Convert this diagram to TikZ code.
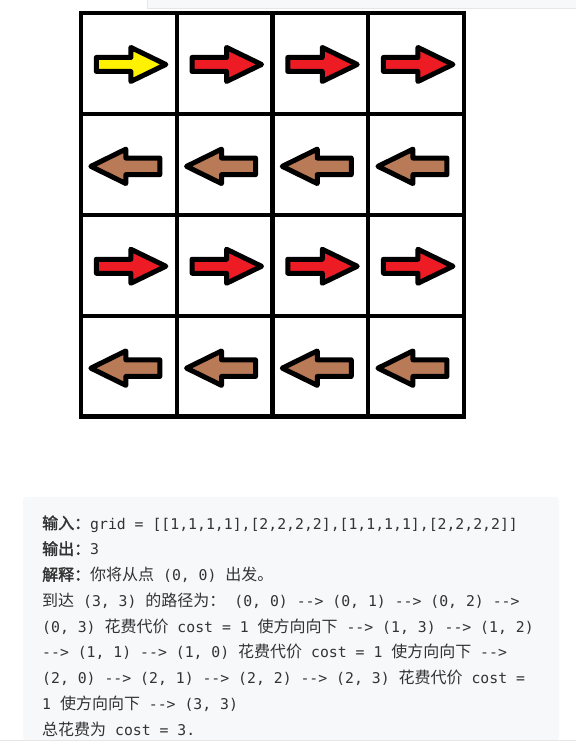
\documentclass[tikz,border=0pt]{standalone}
\usepackage{fontspec}
\usepackage{tikz}
\newfontfamily\cjk[AutoFakeBold=2]{Noto Sans CJK SC}
\newfontfamily\mono{DejaVu Sans Mono}
\definecolor{giallo}{HTML}{FFF200}
\definecolor{rosso}{HTML}{ED1C24}
\definecolor{marrone}{HTML}{B97A57}
\definecolor{sfondo}{HTML}{F7F8FA}
\definecolor{bordo}{HTML}{E6E6E6}
\definecolor{testo}{HTML}{333333}
\newcommand{\zh}[1]{{\cjk\fontsize{16}{20}\selectfont #1}}
\newcommand{\zhb}[1]{{\cjk\fontsize{16}{20}\selectfont\bfseries #1}}
\newcommand{\vai}{-{}-{}>}

\begin{document}
\begin{tikzpicture}[x=1pt,y=-1pt,
    cella/.style={line width=4.3pt,line cap=rect},
    freccia/.style={draw=black,line width=5pt,line join=round},
    riga/.style={anchor=base west,inner sep=0pt,text=testo,font=\mono\fontsize{14.8}{18}\selectfont}]
        \useasboundingbox (0,0) rectangle (576,753);
        % Striscia in alto
        \draw[bordo,fill=sfondo] (147,-1) rectangle (577,8);
        % Griglia 4x4
        \foreach \i in {0,...,4} {
            \draw[cella] ({81+95.7*\i},13) -- ({81+95.7*\i},416.5);
            \draw[cella] (81,{13+100.9*\i}) -- (463.8,{13+100.9*\i});
        }
        % Frecce verso destra (righe 0 e 2)
        \foreach \r in {0,2}
            \foreach \c in {0,...,3} {
                \def\col{rosso}
                \ifnum\r=0 \ifnum\c=0 \def\col{giallo}\fi\fi
                \draw[freccia,fill=\col,shift={({128.85+95.7*\c},{64.45+100.9*\r})}]
                    (-32.5,-7) -- (2,-7) -- (2,-17) -- (37,0) -- (2,17) -- (2,7) -- (-32.5,7) -- cycle;
            }
        % Frecce verso sinistra (righe 1 e 3)
        \foreach \r in {1,3}
            \foreach \c in {0,...,3}
                \draw[freccia,fill=marrone,shift={({128.85+95.7*\c},{65.45+100.9*\r})}]
                    (31,-8.3) -- (-3,-8.3) -- (-3,-17.2) -- (-38,0) -- (-3,17.2) -- (-3,8.3) -- (31,8.3) -- cycle;
        % Riquadro con la spiegazione
        \fill[sfondo,rounded corners=3pt] (23,497) rectangle (559,740);
        \draw[bordo] (0,740.5) -- (576,740.5);
        \node[riga] (r1) at (42,529) {\zhb{输入：}grid = [[1,1,1,1],[2,2,2,2],[1,1,1,1],[2,2,2,2]]};
        \node[riga] (r2) at (42,554.75) {\zhb{输出：}3};
        \node[riga] (r3) at (42,580.5) {\zhb{解释：}\zh{你将从点} (0, 0) \zh{出发。}};
        \node[riga] (r4) at (42,606.25) {\zh{到达} (3, 3) \zh{的路径为：} (0, 0) \vai{} (0, 1) \vai{} (0, 2) \vai};
        \node[riga] (r5) at (42,632) {(0, 3) \zh{花费代价} cost = 1 \zh{使方向向下} \vai{} (1, 3) \vai{} (1, 2)};
        \node[riga] (r6) at (42,657.75) {\vai{} (1, 1) \vai{} (1, 0) \zh{花费代价} cost = 1 \zh{使方向向下} \vai};
        \node[riga] (r7) at (42,683.5) {(2, 0) \vai{} (2, 1) \vai{} (2, 2) \vai{} (2, 3) \zh{花费代价} cost =};
        \node[riga] (r8) at (42,709.25) {1 \zh{使方向向下} \vai{} (3, 3)};
        \node[riga] (r9) at (42,735) {\zh{总花费为} cost = 3.};
    \end{tikzpicture}
\end{document}
